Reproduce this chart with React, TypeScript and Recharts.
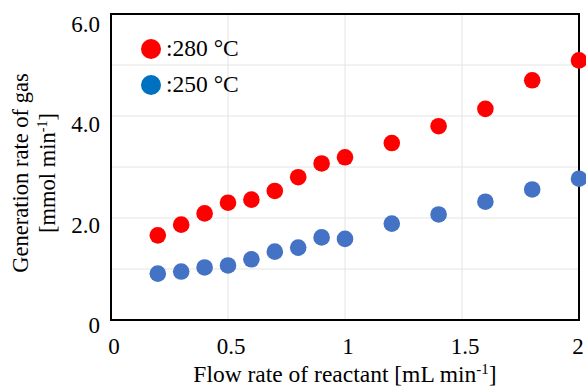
import { ScatterChart, Scatter, XAxis, YAxis, CartesianGrid, ReferenceArea, Legend } from "recharts"

const flowRates = [0.2, 0.3, 0.4, 0.5, 0.6, 0.7, 0.8, 0.9, 1.0, 1.2, 1.4, 1.6, 1.8, 2.0]
const rate280 = [1.66, 1.87, 2.09, 2.3, 2.36, 2.53, 2.8, 3.07, 3.19, 3.47, 3.8, 4.14, 4.7, 5.09]
const rate250 = [0.91, 0.95, 1.03, 1.07, 1.19, 1.34, 1.42, 1.62, 1.59, 1.89, 2.07, 2.32, 2.56, 2.77]

const seriesNames = ["280 °C", "250 °C"]
const markerColors = ["#ff0000", "#4472c4"]
const legendColors = ["#ff0000", "#0070c0"]

const xTicks = [0, 0.5, 1, 1.5, 2]
const yTicks = [0, 2, 4, 6]
const xGrid = [0.5, 1, 1.5]
const yGrid = [1, 2, 3, 4, 5]

const FONT = '"Liberation Serif", "Times New Roman", serif'

const points280 = flowRates.map((x, i) => ({ x, y: rate280[i] }))
const points250 = flowRates.map((x, i) => ({ x, y: rate250[i] }))

const dot = (color: string) => (props: any) => (
  <circle cx={props.cx} cy={props.cy} r={8.3} fill={color} />
)

const XTick = ({ x, y, payload }: any) => (
  // last label hugs the right edge of the picture
  <text x={payload.value === 2 ? x - 1 : x + 3} y={y} dy="0.71em" textAnchor="middle" fontFamily={FONT} fontSize={23} fill="#000">
    {payload.value}
  </text>
)

const YTick = ({ x, y, payload }: any) => (
  // Excel labels sit a little low, more so at the top
  <text x={x} y={y + 5 + payload.value * 0.8} dy="0.355em" textAnchor="end" fontFamily={FONT} fontSize={23} fill="#000">
    {payload.value === 0 ? "0" : payload.value.toFixed(1)}
  </text>
)

const XTitle = ({ viewBox }: any) => (
  <text x={viewBox.x + viewBox.width / 2} y={viewBox.y + 62} textAnchor="middle" fontFamily={FONT} fontSize={23.5} fill="#000">
    Flow rate of reactant [mL min
    <tspan dy={-8} fontSize={15}>-1</tspan>
    <tspan dy={8}>]</tspan>
  </text>
)

const YTitle = () => {
  const cy = 173
  return (
    <g fontFamily={FONT} fontSize={22.5} fill="#000">
      <text x={28} y={cy} textAnchor="middle" transform={`rotate(-90, 28, ${cy})`}>
        Generation rate of gas
      </text>
      <text x={55} y={cy} textAnchor="middle" transform={`rotate(-90, 55, ${cy})`}>
        [mmol min
        <tspan dy={-8} fontSize={14}>-1</tspan>
        <tspan dy={8}>]</tspan>
      </text>
    </g>
  )
}

const renderLegend = () => (
  <div style={{ fontFamily: FONT, fontSize: 23.5, color: "#000", lineHeight: 1 }}>
    {seriesNames.map((name, i) => (
      <div key={name} style={{ display: "flex", alignItems: "center", height: 36 }}>
        <span style={{ width: 20, height: 20, borderRadius: "50%", background: legendColors[i], display: "inline-block" }} />
        <span style={{ marginLeft: 5 }}>:{name}</span>
      </div>
    ))}
  </div>
)

export default function App() {
  return (
    <div style={{ position: "absolute", left: 0, top: 0, background: "#fff" }}>
      <ScatterChart width={586} height={387} margin={{ top: 14, right: 7, bottom: 0, left: 0 }}>
        <CartesianGrid horizontalValues={yGrid} verticalValues={xGrid} stroke="#e4e4e4" strokeWidth={1} />
        <XAxis
          type="number"
          dataKey="x"
          domain={[0, 2]}
          ticks={xTicks}
          height={67}
          axisLine={false}
          tickLine={false}
          tickSize={0}
          tickMargin={18}
          tick={<XTick />}
          label={{ content: (p: any) => <XTitle viewBox={p.viewBox} /> }}
        />
        <YAxis
          type="number"
          dataKey="y"
          domain={[0, 6]}
          ticks={yTicks}
          width={111}
          axisLine={false}
          tickLine={false}
          tickSize={0}
          tickMargin={11}
          tick={<YTick />}
          label={{ content: () => <YTitle /> }}
        />
        <ReferenceArea x1={0} x2={2} y1={0} y2={6} fill="none" fillOpacity={0} stroke="#000" strokeWidth={2} />
        <Scatter name={seriesNames[0]} data={points280} fill={markerColors[0]} shape={dot(markerColors[0])} isAnimationActive={false} />
        <Scatter name={seriesNames[1]} data={points250} fill={markerColors[1]} shape={dot(markerColors[1])} isAnimationActive={false} />
        <Legend
          layout="horizontal"
          verticalAlign="middle"
          align="center"
          wrapperStyle={{ left: 141, top: 31, width: "auto", height: "auto" }}
          content={renderLegend}
        />
      </ScatterChart>
    </div>
  )
}
